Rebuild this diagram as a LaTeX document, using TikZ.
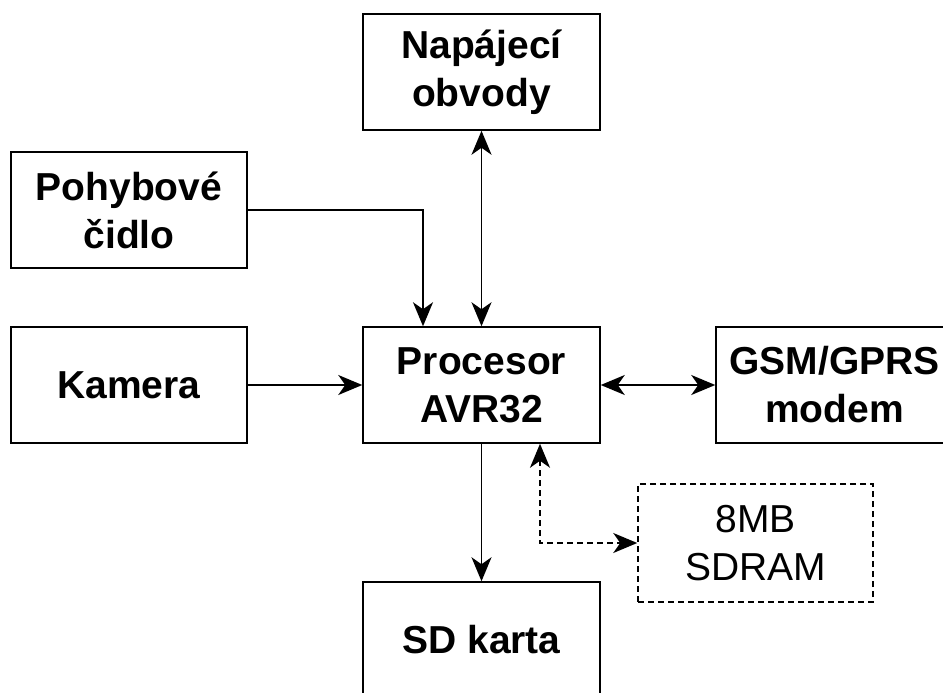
\documentclass[tikz,border=0pt]{standalone}
\usepackage{fontspec}
\setmainfont{Liberation Sans}
\usetikzlibrary{arrows.meta}
\begin{document}
\begin{tikzpicture}[x=1pt,y=-1pt,
  blk/.style={draw, line width=1.5pt, minimum width=237pt, minimum height=116pt, inner sep=0pt, align=center, font=\fontsize{39}{48}\selectfont\bfseries},
  dblk/.style={blk, dash pattern=on 6pt off 4pt, font=\fontsize{39}{48}\selectfont},
  tip/.tip={Stealth[length=24pt,width=20pt,inset=7pt]},
  arr/.style={line width=1.8pt, -tip},
  barr/.style={line width=1.8pt, tip-tip}
]
\clip (0,0) rectangle (943,693);
\fill[white] (0,0) rectangle (943,693);
\node[blk] (nap) at (481.5,72) {Napájecí\\obvody};
\node[blk, minimum width=236pt] (poh) at (129,210) {Pohybové\\čidlo};
\node[blk, minimum width=236pt] (kam) at (129,385) {Kamera};
\node[blk] (proc) at (481.5,385) {Procesor\\AVR32};
\node[blk] (gsm) at (834.5,385) {GSM/GPRS\\modem};
\node[blk] (sd) at (481.5,640) {SD karta};
\node[dblk, minimum width=235pt, minimum height=118pt] (ram) at (755.5,543) {8MB\\SDRAM};
\draw[arr] (poh.east) -| ([xshift=-58.5pt]proc.north);
\draw[barr] (nap) -- (proc);
\draw[arr] (kam) -- (proc);
\draw[barr] (proc) -- (gsm);
\draw[arr] (proc) -- (sd);
\draw[barr, dash pattern=on 6pt off 4pt] ([xshift=58.5pt]proc.south) |- (ram.west);
\end{tikzpicture}
\end{document}
